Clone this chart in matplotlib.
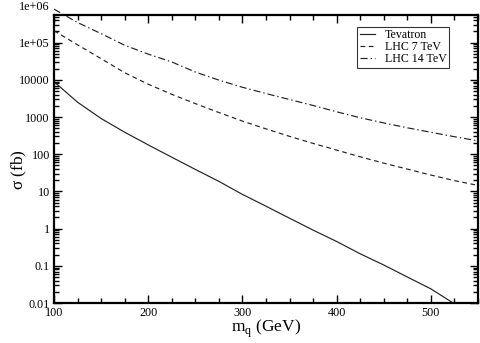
import numpy as np
import matplotlib
matplotlib.use("Agg")
import matplotlib.pyplot as plt
from matplotlib.ticker import FixedLocator, FixedFormatter

# masses (GeV)
m_q = [100, 125, 150, 175, 200, 225, 250, 275, 300, 325, 350,
       375, 400, 425, 450, 475, 500, 525, 550]

# cross sections (fb)
tevatron = [8900, 2500, 910, 390, 178, 83, 39, 18.6, 8.3, 4.0, 1.9,
            0.91, 0.45, 0.21, 0.105, 0.050, 0.024, 0.0095, 0.0045]
lhc7 = [209000, 87000, 37000, 15500, 7600, 4070, 2290, 1320, 776, 479, 302,
        195, 129, 85, 57.5, 39.8, 27.5, 19.5, 14.5]
lhc14 = [794000, 347000, 174000, 85000, 49000, 30200, 16200, 9800, 6300, 4270, 2950,
         2040, 1380, 955, 692, 513, 389, 295, 229]

ytick_vals = [1e-2, 1e-1, 1, 10, 100, 1000, 1e4, 1e5, 1e6]
ytick_labels = ["0.01", "0.1", "1", "10", "100", "1000", "10000", "1e+05", "1e+06"]

plt.rcParams['font.family'] = ['Liberation Serif', 'DejaVu Serif']

fig = plt.figure(figsize=(4.81, 3.43), dpi=100)
ax = fig.add_axes([54/481, 40/343, 424/481, 297.6/343])

ax.plot(m_q, tevatron, color='#222222', lw=0.85, label='Tevatron')
ax.plot(m_q, lhc7, color='#222222', lw=0.85, ls=(0, (4, 3)), label='LHC 7 TeV')
ax.plot(m_q, lhc14, color='#222222', lw=0.85, ls=(0, (6, 2.5, 1.2, 2.5)), label='LHC 14 TeV')

ax.set_yscale('log')
ax.set_xlim(100, 550)
ax.set_ylim(0.01, 1e6)

# frame top sits a bit below 1e6, like the original
frame_top = 5.5e5
ax.spines['top'].set_position(('data', frame_top))
ax.spines['left'].set_bounds(0.01, frame_top)
ax.spines['right'].set_bounds(0.01, frame_top)
for s in ax.spines.values():
    s.set_linewidth(1.6)

ax.set_xticks([100, 200, 300, 400, 500])
ax.set_xticks(np.arange(100, 551, 25), minor=True)
ax.yaxis.set_major_locator(FixedLocator(ytick_vals))
ax.yaxis.set_major_formatter(FixedFormatter(ytick_labels))
minor = [k * 10.0**e for e in range(-2, 6) for k in range(2, 10) if k * 10.0**e < frame_top]
ax.yaxis.set_minor_locator(FixedLocator(minor))

ax.tick_params(which='both', direction='in', top=True, right=True, labelsize=8.7, width=1.0)
ax.tick_params(which='major', length=6)
ax.tick_params(which='minor', length=3.5)
ax.tick_params(axis='y', pad=3)
ax.tick_params(axis='x', pad=3)

# no tick mark sticking out above the frame at 1e6
fig.canvas.draw()
yticks = ax.yaxis.get_major_ticks()
for t, v in zip(yticks, ytick_vals):
    if v > frame_top:
        t.tick1line.set_visible(False)
        t.tick2line.set_visible(False)

ax.set_xlabel(r'm$_\mathregular{q}$ (GeV)', fontsize=12.5)
ax.xaxis.set_label_coords(0.5, -0.05)
ax.set_ylabel(r'$\mathregular{\sigma}$ (fb)', fontsize=12.5)
ax.yaxis.set_label_coords(-0.06, 0.447)

leg = ax.legend(loc='upper right', bbox_to_anchor=((449 - 54) / 424, (303 - 27) / 297.6),
                fontsize=8.6, frameon=True, fancybox=False, edgecolor='black',
                handlelength=1.3, handletextpad=0.8, borderpad=0.2,
                labelspacing=0.0, borderaxespad=0)
leg.get_frame().set_linewidth(0.8)

fig.savefig('out.png', dpi=100)
